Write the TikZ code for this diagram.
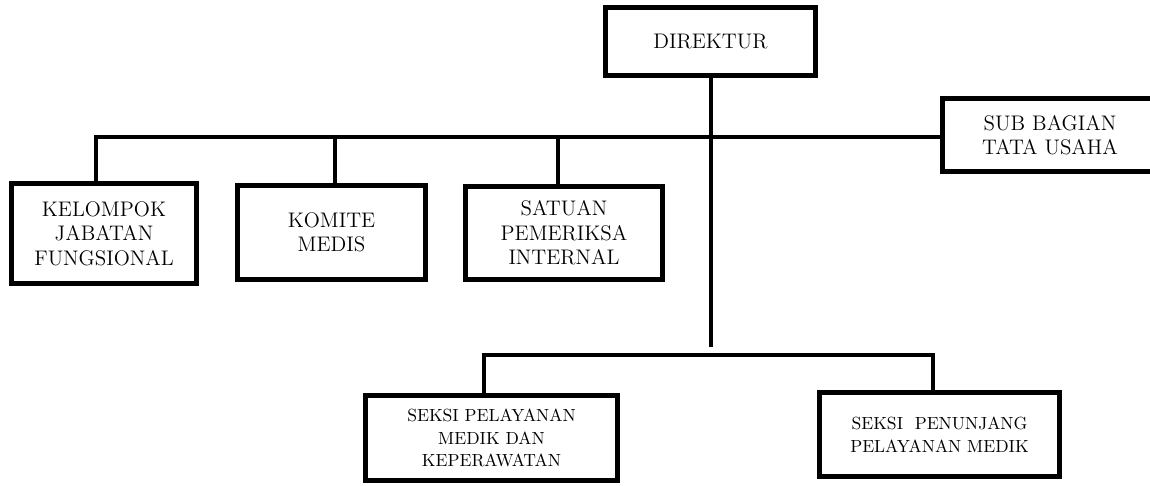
\documentclass[tikz,border=0pt]{standalone}
\usepackage{tikz}
\usetikzlibrary{positioning}

\begin{document}
\begin{tikzpicture}[x=0.02cm, y=-0.02cm,
    unit/.style={rectangle, draw=black, line width=0.1cm, fill=white,
                 align=center, inner sep=0pt, font=\fontsize{12}{14}\selectfont},
    seksi/.style={unit, font=\fontsize{10}{13}\selectfont},
    link/.style={line width=0.07cm},
    bar/.style={line width=0.09cm, line cap=rect}
]
    \useasboundingbox (0,0) rectangle (1150,486);

    % top
    \node[unit, minimum width=4.2cm, minimum height=1.36cm] (dir) at (710.5,41.5) {DIREKTUR};
    \node[unit, minimum width=4.3cm, minimum height=1.46cm] (sub) at (1050,135) {SUB BAGIAN\\TATA USAHA};

    % middle row
    \node[unit, minimum width=3.7cm, minimum height=2.0cm] (kel) at (104,233.5) {KELOMPOK\\JABATAN\\FUNGSIONAL};
    \node[unit, minimum width=3.76cm, minimum height=1.88cm] (kom) at (331.5,232.5) {KOMITE\\MEDIS};
    \node[unit, minimum width=3.94cm, minimum height=1.88cm] (sat) at (564,233) {SATUAN\\PEMERIKSA\\INTERNAL};

    % seksi
    \node[seksi, minimum width=5.04cm, minimum height=1.72cm] (pel) at (491.5,438) {SEKSI PELAYANAN\\MEDIK DAN\\KEPERAWATAN};
    \node[seksi, minimum width=4.8cm, minimum height=1.68cm] (pen) at (939.5,434.5) {SEKSI\ \ PENUNJANG\\PELAYANAN MEDIK};

    \coordinate (barL) at (96,137);
    \coordinate (dkom) at (335,137);
    \coordinate (dsat) at (558,137);
    \coordinate (trunk) at (711,347);
    \coordinate (lowL) at (484,355);
    \coordinate (lowR) at (933,355);

    \draw[bar]  (barL) -- (barL -| sub.west);
    \draw[link] (barL) -- (barL |- kel.north);
    \draw[link] (dkom) -- (dkom |- kom.north);
    \draw[link] (dsat) -- (dsat |- sat.north);
    \draw[link] (dir.south -| trunk) -- (trunk);

    \draw[bar]  (lowL) -- (lowR);
    \draw[link] (lowL) -- (lowL |- pel.north);
    \draw[link] (lowR) -- (lowR |- pen.north);
\end{tikzpicture}
\end{document}
